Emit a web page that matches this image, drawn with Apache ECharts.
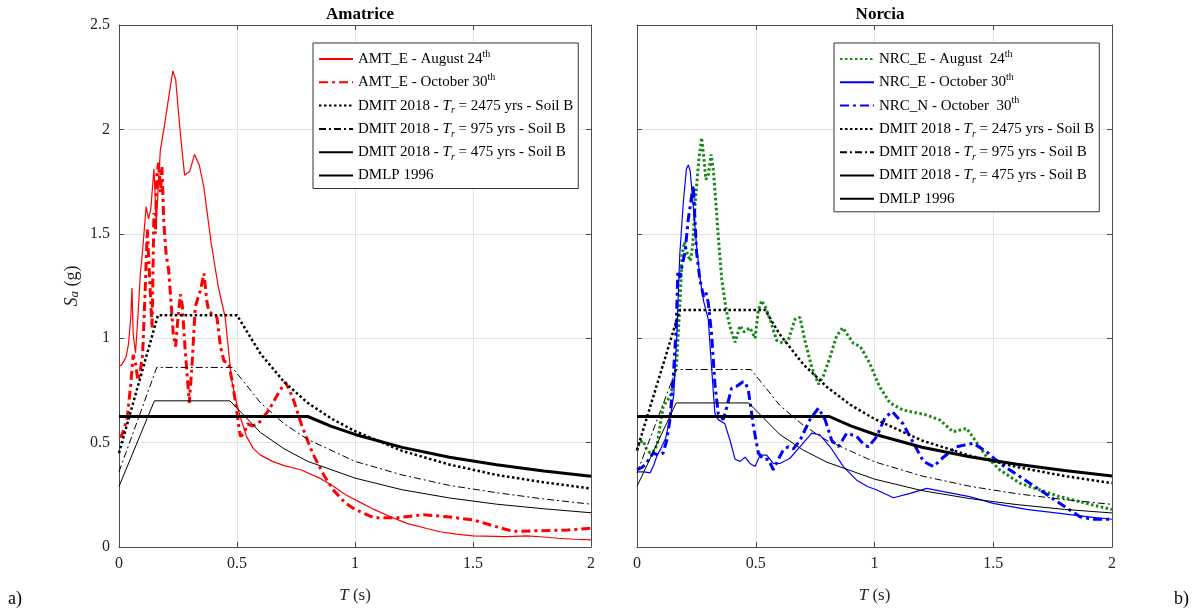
<!DOCTYPE html>
<html>
<head>
<meta charset="utf-8">
<script src="https://cdn.jsdelivr.net/npm/echarts@6/dist/echarts.min.js"></script>
<style>html,body{margin:0;padding:0;background:#fff}#c{width:1197px;height:616px}</style>
</head>
<body>
<div id="c"></div>
<script>
// ---------- DATA ([T (s), Sa (g)]) ----------
const xTicks = [0, 0.5, 1, 1.5, 2];
const yTicks = [0, 0.5, 1, 1.5, 2, 2.5];

// Amatrice records
const amtAug = [[0,0.87],[0.01,0.87],[0.02,0.89],[0.03,0.91],[0.04,0.97],[0.05,1.10],[0.055,1.24],[0.06,1.02],[0.07,0.93],[0.08,1.10],[0.09,1.30],[0.1,1.42],[0.115,1.63],[0.125,1.57],[0.135,1.62],[0.148,1.81],[0.158,1.55],[0.165,1.55],[0.175,1.90],[0.19,2.0],[0.21,2.15],[0.228,2.28],[0.24,2.24],[0.26,1.98],[0.278,1.78],[0.3,1.80],[0.32,1.88],[0.34,1.83],[0.36,1.72],[0.39,1.46],[0.42,1.25],[0.45,1.10],[0.477,0.80],[0.5,0.68],[0.515,0.62],[0.54,0.53],[0.57,0.47],[0.6,0.44],[0.65,0.41],[0.7,0.39],[0.77,0.37],[0.85,0.33],[0.91,0.29],[0.96,0.25],[1.02,0.215],[1.08,0.18],[1.15,0.145],[1.22,0.113],[1.3,0.09],[1.36,0.073],[1.43,0.062],[1.5,0.053],[1.64,0.05],[1.73,0.053],[1.8,0.048],[1.86,0.042],[1.93,0.037],[2.0,0.034]];
const amtOct = [[0,0.53],[0.01,0.53],[0.02,0.56],[0.035,0.62],[0.05,0.78],[0.06,0.92],[0.07,0.88],[0.08,0.80],[0.09,0.84],[0.1,0.92],[0.11,1.2],[0.12,1.52],[0.13,1.28],[0.14,1.05],[0.148,1.6],[0.154,1.5],[0.16,1.78],[0.168,1.84],[0.176,1.70],[0.182,1.82],[0.19,1.55],[0.2,1.40],[0.21,1.33],[0.22,1.18],[0.23,1.02],[0.24,0.96],[0.25,1.1],[0.26,1.21],[0.268,1.16],[0.28,0.95],[0.298,0.69],[0.31,0.88],[0.323,1.15],[0.345,1.23],[0.36,1.31],[0.372,1.18],[0.38,1.13],[0.4,1.11],[0.415,1.10],[0.43,0.96],[0.445,0.89],[0.465,0.88],[0.482,0.78],[0.5,0.64],[0.514,0.53],[0.528,0.54],[0.545,0.59],[0.565,0.58],[0.59,0.59],[0.635,0.656],[0.677,0.74],[0.705,0.79],[0.735,0.72],[0.775,0.58],[0.82,0.45],[0.87,0.34],[0.91,0.27],[0.96,0.21],[1.0,0.18],[1.08,0.14],[1.18,0.14],[1.29,0.155],[1.39,0.145],[1.5,0.13],[1.59,0.10],[1.67,0.075],[1.78,0.078],[1.9,0.081],[2.0,0.09]];

// Amatrice design spectra
const amtD2475 = [[0,0.45],[0.165,1.11],[0.5,1.11],[0.6,0.925],[0.7,0.79],[0.8,0.69],[0.9,0.615],[1.0,0.555],[1.2,0.46],[1.4,0.395],[1.6,0.345],[1.8,0.31],[2.0,0.28]];
const amtD975 = [[0,0.36],[0.16,0.86],[0.48,0.86],[0.6,0.69],[0.7,0.59],[0.8,0.515],[1.0,0.41],[1.2,0.345],[1.4,0.295],[1.6,0.26],[1.8,0.23],[2.0,0.205]];
const amtD475 = [[0,0.29],[0.15,0.70],[0.47,0.70],[0.6,0.548],[0.7,0.47],[0.8,0.41],[1.0,0.33],[1.2,0.274],[1.4,0.235],[1.6,0.205],[1.8,0.183],[2.0,0.164]];
const amtDMLP = [[0,0.625],[0.8,0.625],[0.9,0.578],[1.0,0.539],[1.2,0.477],[1.4,0.43],[1.6,0.394],[1.8,0.364],[2.0,0.339]];

// Norcia records
const nrcAugE = [[0,0.46],[0.01,0.50],[0.025,0.51],[0.04,0.47],[0.055,0.45],[0.07,0.46],[0.085,0.49],[0.1,0.60],[0.11,0.67],[0.125,0.70],[0.14,0.72],[0.155,0.80],[0.167,0.88],[0.18,1.15],[0.19,1.40],[0.2,1.46],[0.212,1.40],[0.225,1.37],[0.235,1.45],[0.245,1.65],[0.26,1.85],[0.272,1.96],[0.28,1.88],[0.29,1.76],[0.3,1.78],[0.312,1.88],[0.322,1.80],[0.332,1.65],[0.342,1.49],[0.357,1.28],[0.375,1.14],[0.39,1.06],[0.413,0.98],[0.434,1.06],[0.45,1.03],[0.462,1.04],[0.476,1.05],[0.497,1.0],[0.511,1.135],[0.525,1.18],[0.54,1.15],[0.56,1.09],[0.588,0.99],[0.616,0.975],[0.637,0.99],[0.665,1.09],[0.686,1.10],[0.707,0.99],[0.736,0.86],[0.764,0.78],[0.785,0.82],[0.813,0.91],[0.84,1.01],[0.866,1.05],[0.89,1.01],[0.911,0.975],[0.94,0.96],[0.98,0.88],[1.02,0.77],[1.065,0.69],[1.12,0.656],[1.22,0.632],[1.276,0.608],[1.33,0.552],[1.388,0.568],[1.423,0.512],[1.472,0.432],[1.528,0.369],[1.613,0.305],[1.697,0.273],[1.78,0.241],[1.865,0.217],[1.949,0.193],[2.0,0.18]];
const nrcOctE = [[0,0.36],[0.015,0.36],[0.03,0.36],[0.055,0.355],[0.07,0.39],[0.085,0.44],[0.1,0.47],[0.12,0.52],[0.14,0.62],[0.155,0.73],[0.167,1.0],[0.18,1.40],[0.195,1.65],[0.208,1.81],[0.216,1.83],[0.224,1.80],[0.237,1.63],[0.251,1.44],[0.265,1.29],[0.28,1.18],[0.3,1.09],[0.314,0.86],[0.328,0.64],[0.342,0.61],[0.37,0.59],[0.392,0.51],[0.413,0.42],[0.434,0.41],[0.455,0.43],[0.476,0.40],[0.497,0.385],[0.518,0.44],[0.546,0.44],[0.574,0.40],[0.602,0.40],[0.644,0.425],[0.686,0.48],[0.736,0.545],[0.77,0.537],[0.813,0.48],[0.869,0.385],[0.925,0.32],[0.97,0.29],[1.01,0.273],[1.08,0.236],[1.15,0.257],[1.22,0.281],[1.29,0.265],[1.4,0.241],[1.5,0.209],[1.64,0.18],[1.78,0.161],[1.92,0.142],[2.0,0.133]];
const nrcOctN = [[0,0.37],[0.02,0.38],[0.04,0.40],[0.055,0.43],[0.069,0.45],[0.09,0.44],[0.11,0.45],[0.125,0.51],[0.139,0.61],[0.153,0.82],[0.165,1.05],[0.172,1.32],[0.181,1.29],[0.19,1.35],[0.202,1.41],[0.216,1.57],[0.23,1.68],[0.237,1.73],[0.244,1.57],[0.251,1.41],[0.265,1.28],[0.28,1.20],[0.29,1.22],[0.30,1.17],[0.314,1.02],[0.328,0.78],[0.342,0.64],[0.363,0.61],[0.378,0.67],[0.398,0.76],[0.42,0.77],[0.445,0.79],[0.455,0.79],[0.469,0.75],[0.49,0.58],[0.511,0.45],[0.532,0.42],[0.553,0.42],[0.574,0.37],[0.595,0.42],[0.616,0.465],[0.637,0.48],[0.658,0.47],[0.686,0.51],[0.728,0.61],[0.764,0.665],[0.792,0.61],[0.82,0.51],[0.848,0.48],[0.883,0.545],[0.925,0.53],[0.955,0.49],[0.975,0.48],[1.01,0.53],[1.044,0.62],[1.075,0.648],[1.12,0.59],[1.163,0.50],[1.206,0.41],[1.248,0.385],[1.29,0.43],[1.346,0.48],[1.416,0.497],[1.472,0.456],[1.528,0.40],[1.613,0.337],[1.697,0.273],[1.78,0.209],[1.865,0.145],[1.92,0.133],[2.0,0.133]];

// Norcia design spectra
const nrcD2475 = [[0,0.465],[0.18,1.135],[0.54,1.135],[0.6,1.02],[0.7,0.875],[0.8,0.766],[0.9,0.68],[1.0,0.613],[1.2,0.51],[1.4,0.438],[1.6,0.383],[1.8,0.34],[2.0,0.306]];
const nrcD975 = [[0,0.355],[0.165,0.85],[0.48,0.85],[0.6,0.68],[0.7,0.583],[0.8,0.51],[1.0,0.408],[1.2,0.34],[1.4,0.291],[1.6,0.255],[1.8,0.227],[2.0,0.204]];
const nrcD475 = [[0,0.29],[0.165,0.69],[0.47,0.69],[0.6,0.54],[0.7,0.464],[0.8,0.406],[1.0,0.325],[1.2,0.27],[1.4,0.232],[1.6,0.203],[1.8,0.18],[2.0,0.163]];
const nrcDMLP = [[0,0.625],[0.81,0.625],[0.9,0.58],[1.0,0.54],[1.2,0.478],[1.4,0.432],[1.6,0.396],[1.8,0.366],[2.0,0.34]];

// ---------- NAMES ----------
const N = {
  amtAug: 'AMT_E - August 24th',
  amtOct: 'AMT_E - October 30th',
  nrcAug: 'NRC_E - August  24th',
  nrcOctE: 'NRC_E - October 30th',
  nrcOctN: 'NRC_N - October  30th',
  d2475: 'DMIT 2018 - Tr = 2475 yrs - Soil B',
  d975: 'DMIT 2018 - Tr = 975 yrs - Soil B',
  d475: 'DMIT 2018 - Tr = 475 yrs - Soil B',
  dmlp: 'DMLP 1996'
};
const richName = {};
richName[N.amtAug] = 'AMT_E - August 24{sup|th}';
richName[N.amtOct] = 'AMT_E - October 30{sup|th}';
richName[N.nrcAug] = 'NRC_E - August  24{sup|th}';
richName[N.nrcOctE] = 'NRC_E - October 30{sup|th}';
richName[N.nrcOctN] = 'NRC_N - October  30{sup|th}';
richName[N.d2475] = 'DMIT 2018 - {it|T}{sub|r} = 2475 yrs - Soil B';
richName[N.d975] = 'DMIT 2018 - {it|T}{sub|r} = 975 yrs - Soil B';
richName[N.d475] = 'DMIT 2018 - {it|T}{sub|r} = 475 yrs - Soil B';
richName[N.dmlp] = 'DMLP 1996';

const FONT = '"Liberation Serif","Times New Roman",serif';
const AX = '#4d4d4d';
const GRIDC = '#e3e3e3';

function xAx(gi, top) {
  return {
    type: 'value', gridIndex: gi, min: 0, max: 2, interval: 0.5,
    position: top ? 'top' : 'bottom',
    name: top ? '' : '{it|T} (s)', nameLocation: 'middle', nameGap: 40,
    nameTextStyle: { fontFamily: FONT, fontSize: 17, color: '#262626',
      rich: { it: { fontFamily: FONT, fontStyle: 'italic', fontSize: 17, color: '#262626' } } },
    axisLine: { show: true, onZero: false, lineStyle: { color: AX, width: 1 } },
    axisTick: { show: true, inside: true, length: 5, lineStyle: { color: AX } },
    axisLabel: { show: !top, fontFamily: FONT, fontSize: 16, color: '#262626', margin: 9 },
    splitLine: { show: !top, lineStyle: { color: GRIDC, width: 1 } }
  };
}
function yAx(gi, right, labels) {
  return {
    type: 'value', gridIndex: gi, min: 0, max: 2.5, interval: 0.5,
    position: right ? 'right' : 'left',
    name: (!right && labels) ? '{it|S}{sub|a} (g)' : '',
    nameLocation: 'middle', nameGap: 38, nameRotate: 90,
    nameTextStyle: { fontFamily: FONT, fontSize: 18, color: '#262626',
      rich: {
        it: { fontFamily: FONT, fontStyle: 'italic', fontSize: 18, color: '#262626' },
        sub: { fontFamily: FONT, fontStyle: 'italic', fontSize: 13, color: '#262626', verticalAlign: 'bottom', lineHeight: 10 }
      } },
    axisLine: { show: true, onZero: false, lineStyle: { color: AX, width: 1 } },
    axisTick: { show: true, inside: true, length: 5, lineStyle: { color: AX } },
    axisLabel: { show: !right && labels, fontFamily: FONT, fontSize: 16, color: '#262626', margin: 9 },
    splitLine: { show: !right, lineStyle: { color: GRIDC, width: 1 } }
  };
}

function line(name, data, gi, color, width, type, z) {
  return {
    type: 'line', name: name, data: data, xAxisIndex: gi, yAxisIndex: gi,
    showSymbol: false, symbol: 'none', smooth: false, z: z || 2,
    lineStyle: { color: color, width: width, type: type },
    itemStyle: { color: color },
    emphasis: { disabled: true }, animation: false
  };
}

const DOT = [2.5, 2.5];
const DASHDOT = [7, 3, 2, 3];
const THICKDASHDOT = [9, 4, 3, 4];

const legendRich = {
  sup: { fontFamily: FONT, fontSize: 10, color: '#000', verticalAlign: 'top', lineHeight: 10 },
  sub: { fontFamily: FONT, fontSize: 10, fontStyle: 'italic', color: '#000', verticalAlign: 'bottom', lineHeight: 8 },
  it: { fontFamily: FONT, fontSize: 15, fontStyle: 'italic', color: '#000', lineHeight: 20 }
};
function legend(left, names) {
  return {
    orient: 'vertical', left: left, top: 43, data: names,
    backgroundColor: '#fff', borderColor: '#333', borderWidth: 1,
    padding: [6, 5, 3, 5], itemGap: 3.3, itemWidth: 34, itemHeight: 14,
    selectedMode: false,
    itemStyle: { opacity: 0 },
    textStyle: { fontFamily: FONT, fontSize: 15, color: '#000', lineHeight: 20, rich: legendRich },
    formatter: function (n) { return richName[n] || n; }
  };
}

const chart = echarts.init(document.getElementById('c'), null, { renderer: 'canvas' });
chart.setOption({
  animation: false,
  backgroundColor: '#fff',
  title: [
    { text: 'Amatrice', left: 355, top: 1, textAlign: 'center',
      textStyle: { fontFamily: FONT, fontWeight: 'bold', fontSize: 17, color: '#000' } },
    { text: 'Norcia', left: 875, top: 1, textAlign: 'center',
      textStyle: { fontFamily: FONT, fontWeight: 'bold', fontSize: 17, color: '#000' } }
  ],
  grid: [
    { left: 119, top: 25, width: 472, height: 522, show: false },
    { left: 637, top: 25, width: 475, height: 522, show: false }
  ],
  xAxis: [xAx(0, false), xAx(1, false), xAx(0, true), xAx(1, true)],
  yAxis: [yAx(0, false, true), yAx(1, false, false), yAx(0, true, false), yAx(1, true, false)],
  legend: [
    legend(313, [N.amtAug, N.amtOct, N.d2475, N.d975, N.d475, N.dmlp]),
    legend(834, [N.nrcAug, N.nrcOctE, N.nrcOctN, N.d2475, N.d975, N.d475, N.dmlp])
  ],
  series: [
    line(N.amtAug, amtAug, 0, '#ff0000', 1.2, 'solid', 3),
    line(N.amtOct, amtOct, 0, '#ff0000', 3, THICKDASHDOT, 3),
    line(N.d2475, amtD2475, 0, '#000', 2.5, DOT, 4),
    line(N.d975, amtD975, 0, '#000', 1, DASHDOT, 4),
    line(N.d475, amtD475, 0, '#000', 1, 'solid', 4),
    line(N.dmlp, amtDMLP, 0, '#000', 3, 'solid', 4),

    line(N.nrcAug, nrcAugE, 1, '#138a13', 3, DOT, 3),
    line(N.nrcOctE, nrcOctE, 1, '#0000ff', 1.2, 'solid', 3),
    line(N.nrcOctN, nrcOctN, 1, '#0000ff', 3, THICKDASHDOT, 3),
    line(N.d2475, nrcD2475, 1, '#000', 2.5, DOT, 4),
    line(N.d975, nrcD975, 1, '#000', 1, DASHDOT, 4),
    line(N.d475, nrcD475, 1, '#000', 1, 'solid', 4),
    line(N.dmlp, nrcDMLP, 1, '#000', 3, 'solid', 4)
  ],
  graphic: [
    { type: 'text', left: 8, top: 590, style: { text: 'a)', font: '18px ' + FONT, fill: '#000' } },
    { type: 'text', left: 1174, top: 590, style: { text: 'b)', font: '18px ' + FONT, fill: '#000' } }
  ]
});
</script>
</body>
</html>
